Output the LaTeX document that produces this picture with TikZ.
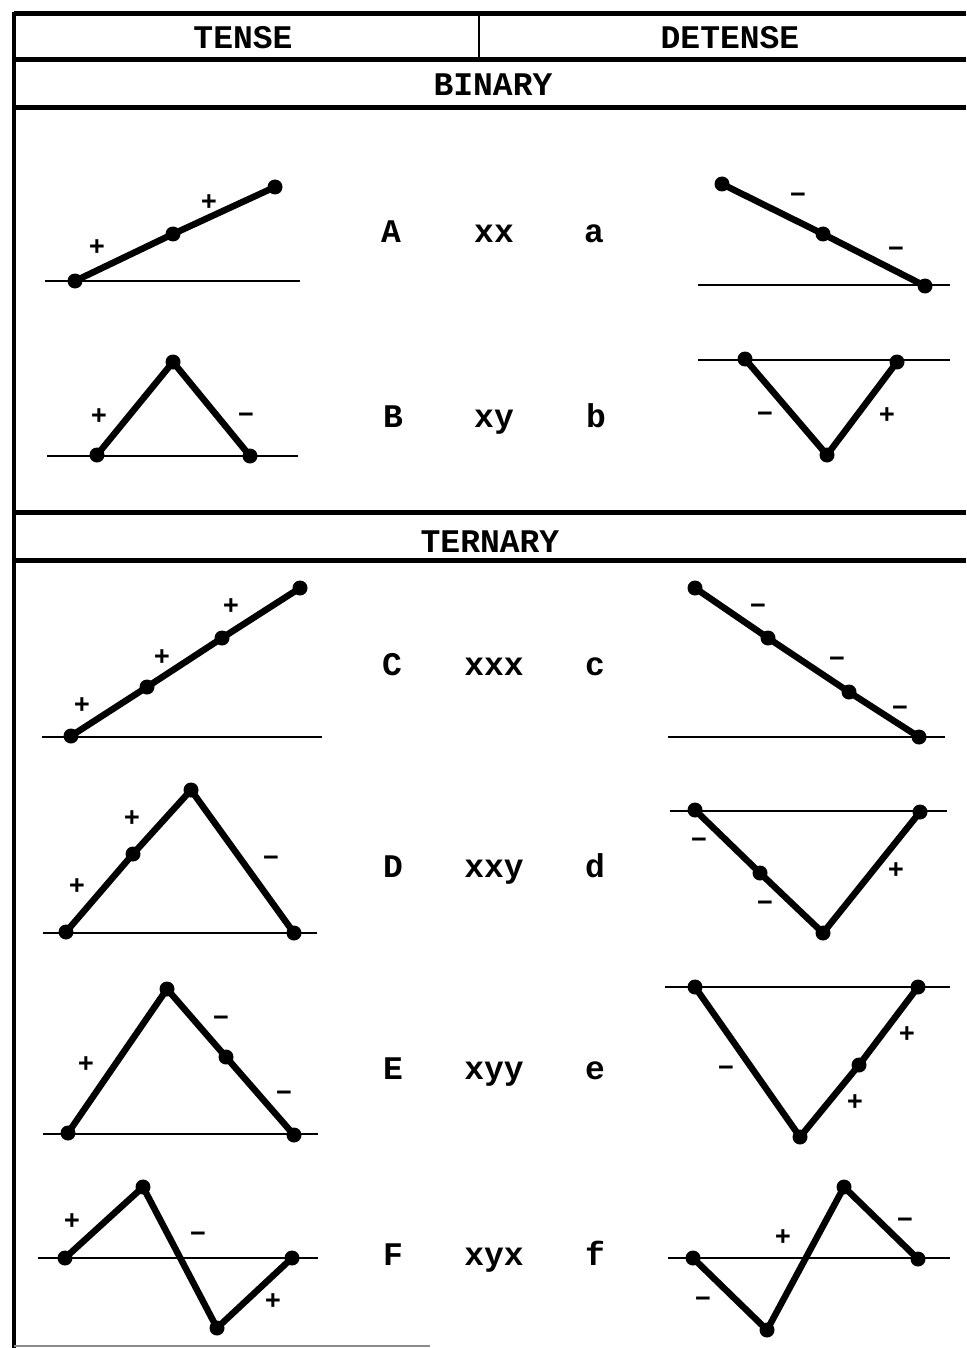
\documentclass[tikz,border=0pt]{standalone}
\usepackage{fontspec}
\newfontfamily\tw{Liberation Mono}
\tikzset{
  dot/.style={circle, fill=black, draw=none, inner sep=0pt, minimum size=15pt},
  seg/.style={line width=6.5pt, line join=round, line cap=round},
  base/.style={line width=1.8pt},
  rule/.style={line width=5pt},
  lbl/.style={font=\tw\bfseries\fontsize{33}{33}\selectfont, inner sep=0pt, anchor=base},
  sgn/.style={font=\tw\bfseries\fontsize{27}{27}\selectfont, inner sep=0pt},
}
\begin{document}
\begin{tikzpicture}[x=1pt,y=-1pt]
\useasboundingbox (0,0) rectangle (966,1348);
% frame
\coordinate (TL) at (14,14); \coordinate (TR) at (966,14);
\coordinate (H1L) at (14,60); \coordinate (H1R) at (966,60);
\coordinate (H2L) at (14,108); \coordinate (H2R) at (966,108);
\coordinate (H3L) at (14,512); \coordinate (H3R) at (966,512);
\coordinate (H4L) at (14,560); \coordinate (H4R) at (966,560);
\coordinate (VT) at (14,12); \coordinate (VB) at (14,1348);
\coordinate (DT) at (479,14); \coordinate (DB) at (479,60);
\coordinate (BL) at (14,1346); \coordinate (BR) at (430,1346);
\draw[rule] (TL) -- (TR);
\draw[rule] (H1L) -- (H1R);
\draw[rule] (H2L) -- (H2R);
\draw[rule] (H3L) -- (H3R);
\draw[rule] (H4L) -- (H4R);
\draw[line width=3.5pt] (VT) -- (VB);
\draw[line width=2pt] (DT) -- (DB);
\draw[line width=1.5pt, black!45] (BL) -- (BR);
% headers
\node[lbl] (tense) at (243,49) {TENSE};
\node[lbl] (detense) at (730,49) {DETENSE};
\node[lbl] (binary) at (493,96) {BINARY};
\node[lbl] (ternary) at (490,552) {TERNARY};
% row labels
\node[lbl] (LA) at (391,243) {A}; \node[lbl] (MA) at (494,243) {xx}; \node[lbl] (RA) at (594,243) {a};
\node[lbl] (LB) at (393,427) {B}; \node[lbl] (MB) at (494,427) {xy}; \node[lbl] (RB) at (596,427) {b};
\node[lbl] (LC) at (392,675) {C}; \node[lbl] (MC) at (494,675) {xxx}; \node[lbl] (RC) at (595,675) {c};
\node[lbl] (LD) at (393,877) {D}; \node[lbl] (MD) at (494,877) {xxy}; \node[lbl] (RD) at (595,877) {d};
\node[lbl] (LE) at (393,1079) {E}; \node[lbl] (ME) at (494,1079) {xyy}; \node[lbl] (RE) at (595,1079) {e};
\node[lbl] (LF) at (393,1265) {F}; \node[lbl] (MF) at (494,1265) {xyx}; \node[lbl] (RF) at (595,1265) {f};

% ---- A (tense)
\coordinate (Ab1) at (45,281); \coordinate (Ab2) at (300,281);
\draw[base] (Ab1) -- (Ab2);
\node[dot] (A1) at (75,281) {}; \node[dot] (A2) at (173,234) {}; \node[dot] (A3) at (275,187) {};
\draw[seg] (A1.center) -- (A2.center) -- (A3.center);
\node[sgn] (As1) at (97,248) {+}; \node[sgn] (As2) at (209,203) {+};
% ---- a (detense)
\coordinate (ab1) at (698,285); \coordinate (ab2) at (950,285);
\draw[base] (ab1) -- (ab2);
\node[dot] (a1) at (722,184) {}; \node[dot] (a2) at (823,234) {}; \node[dot] (a3) at (925,286) {};
\draw[seg] (a1.center) -- (a2.center) -- (a3.center);
\node[sgn] (as1) at (798,198) {−}; \node[sgn] (as2) at (896,252) {−};

% ---- B
\coordinate (Bb1) at (47,456); \coordinate (Bb2) at (298,456);
\draw[base] (Bb1) -- (Bb2);
\node[dot] (B1) at (97,455) {}; \node[dot] (B2) at (173,362) {}; \node[dot] (B3) at (250,456) {};
\draw[seg] (B1.center) -- (B2.center) -- (B3.center);
\node[sgn] (Bs1) at (99,417) {+}; \node[sgn] (Bs2) at (246,418) {−};
% ---- b
\coordinate (bb1) at (698,360); \coordinate (bb2) at (950,360);
\draw[base] (bb1) -- (bb2);
\node[dot] (b1) at (745,359) {}; \node[dot] (b2) at (827,455) {}; \node[dot] (b3) at (897,362) {};
\draw[seg] (b1.center) -- (b2.center) -- (b3.center);
\node[sgn] (bs1) at (765,417) {−}; \node[sgn] (bs2) at (887,416) {+};

% ---- C
\coordinate (Cb1) at (42,737); \coordinate (Cb2) at (322,737);
\draw[base] (Cb1) -- (Cb2);
\node[dot] (C1) at (71,736) {}; \node[dot] (C2) at (147,687) {}; \node[dot] (C3) at (222,638) {}; \node[dot] (C4) at (300,588) {};
\draw[seg] (C1.center) -- (C2.center) -- (C3.center) -- (C4.center);
\node[sgn] (Cs1) at (82,706) {+}; \node[sgn] (Cs2) at (162,658) {+}; \node[sgn] (Cs3) at (231,607) {+};
% ---- c
\coordinate (cb1) at (668,737); \coordinate (cb2) at (945,737);
\draw[base] (cb1) -- (cb2);
\node[dot] (c1) at (695,588) {}; \node[dot] (c2) at (768,638) {}; \node[dot] (c3) at (849,692) {}; \node[dot] (c4) at (919,737) {};
\draw[seg] (c1.center) -- (c2.center) -- (c3.center) -- (c4.center);
\node[sgn] (cs1) at (758,609) {−}; \node[sgn] (cs2) at (837,662) {−}; \node[sgn] (cs3) at (900,711) {−};

% ---- D
\coordinate (Db1) at (43,933); \coordinate (Db2) at (317,933);
\draw[base] (Db1) -- (Db2);
\node[dot] (D1) at (66,932) {}; \node[dot] (D2) at (133,854) {}; \node[dot] (D3) at (191,790) {}; \node[dot] (D4) at (294,933) {};
\draw[seg] (D1.center) -- (D2.center) -- (D3.center) -- (D4.center);
\node[sgn] (Ds1) at (77,887) {+}; \node[sgn] (Ds2) at (132,819) {+}; \node[sgn] (Ds3) at (271,861) {−};
% ---- d
\coordinate (db1) at (670,811); \coordinate (db2) at (947,811);
\draw[base] (db1) -- (db2);
\node[dot] (d1) at (695,810) {}; \node[dot] (d2) at (760,873) {}; \node[dot] (d3) at (823,933) {}; \node[dot] (d4) at (920,812) {};
\draw[seg] (d1.center) -- (d2.center) -- (d3.center) -- (d4.center);
\node[sgn] (ds1) at (699,843) {−}; \node[sgn] (ds2) at (765,906) {−}; \node[sgn] (ds3) at (896,871) {+};

% ---- E
\coordinate (Eb1) at (43,1134); \coordinate (Eb2) at (318,1134);
\draw[base] (Eb1) -- (Eb2);
\node[dot] (E1) at (68,1133) {}; \node[dot] (E2) at (167,989) {}; \node[dot] (E3) at (226,1057) {}; \node[dot] (E4) at (294,1135) {};
\draw[seg] (E1.center) -- (E2.center) -- (E3.center) -- (E4.center);
\node[sgn] (Es1) at (86,1065) {+}; \node[sgn] (Es2) at (221,1021) {−}; \node[sgn] (Es3) at (284,1096) {−};
% ---- e
\coordinate (eb1) at (665,987); \coordinate (eb2) at (950,987);
\draw[base] (eb1) -- (eb2);
\node[dot] (e1) at (695,987) {}; \node[dot] (e2) at (800,1137) {}; \node[dot] (e3) at (859,1065) {}; \node[dot] (e4) at (918,987) {};
\draw[seg] (e1.center) -- (e2.center) -- (e3.center) -- (e4.center);
\node[sgn] (es1) at (726,1071) {−}; \node[sgn] (es2) at (855,1103) {+}; \node[sgn] (es3) at (907,1035) {+};

% ---- F
\coordinate (Fb1) at (38,1258); \coordinate (Fb2) at (318,1258);
\draw[base] (Fb1) -- (Fb2);
\node[dot] (F1) at (65,1258) {}; \node[dot] (F2) at (143,1187) {}; \node[dot] (F3) at (217,1328) {}; \node[dot] (F4) at (292,1258) {};
\draw[seg] (F1.center) -- (F2.center) -- (F3.center) -- (F4.center);
\node[sgn] (Fs1) at (72,1222) {+}; \node[sgn] (Fs2) at (198,1237) {−}; \node[sgn] (Fs3) at (273,1302) {+};
% ---- f
\coordinate (fb1) at (668,1258); \coordinate (fb2) at (950,1258);
\draw[base] (fb1) -- (fb2);
\node[dot] (f1) at (693,1258) {}; \node[dot] (f2) at (767,1330) {}; \node[dot] (f3) at (844,1187) {}; \node[dot] (f4) at (918,1259) {};
\draw[seg] (f1.center) -- (f2.center) -- (f3.center) -- (f4.center);
\node[sgn] (fs1) at (703,1302) {−}; \node[sgn] (fs2) at (783,1238) {+}; \node[sgn] (fs3) at (905,1223) {−};
\end{tikzpicture}
\end{document}
